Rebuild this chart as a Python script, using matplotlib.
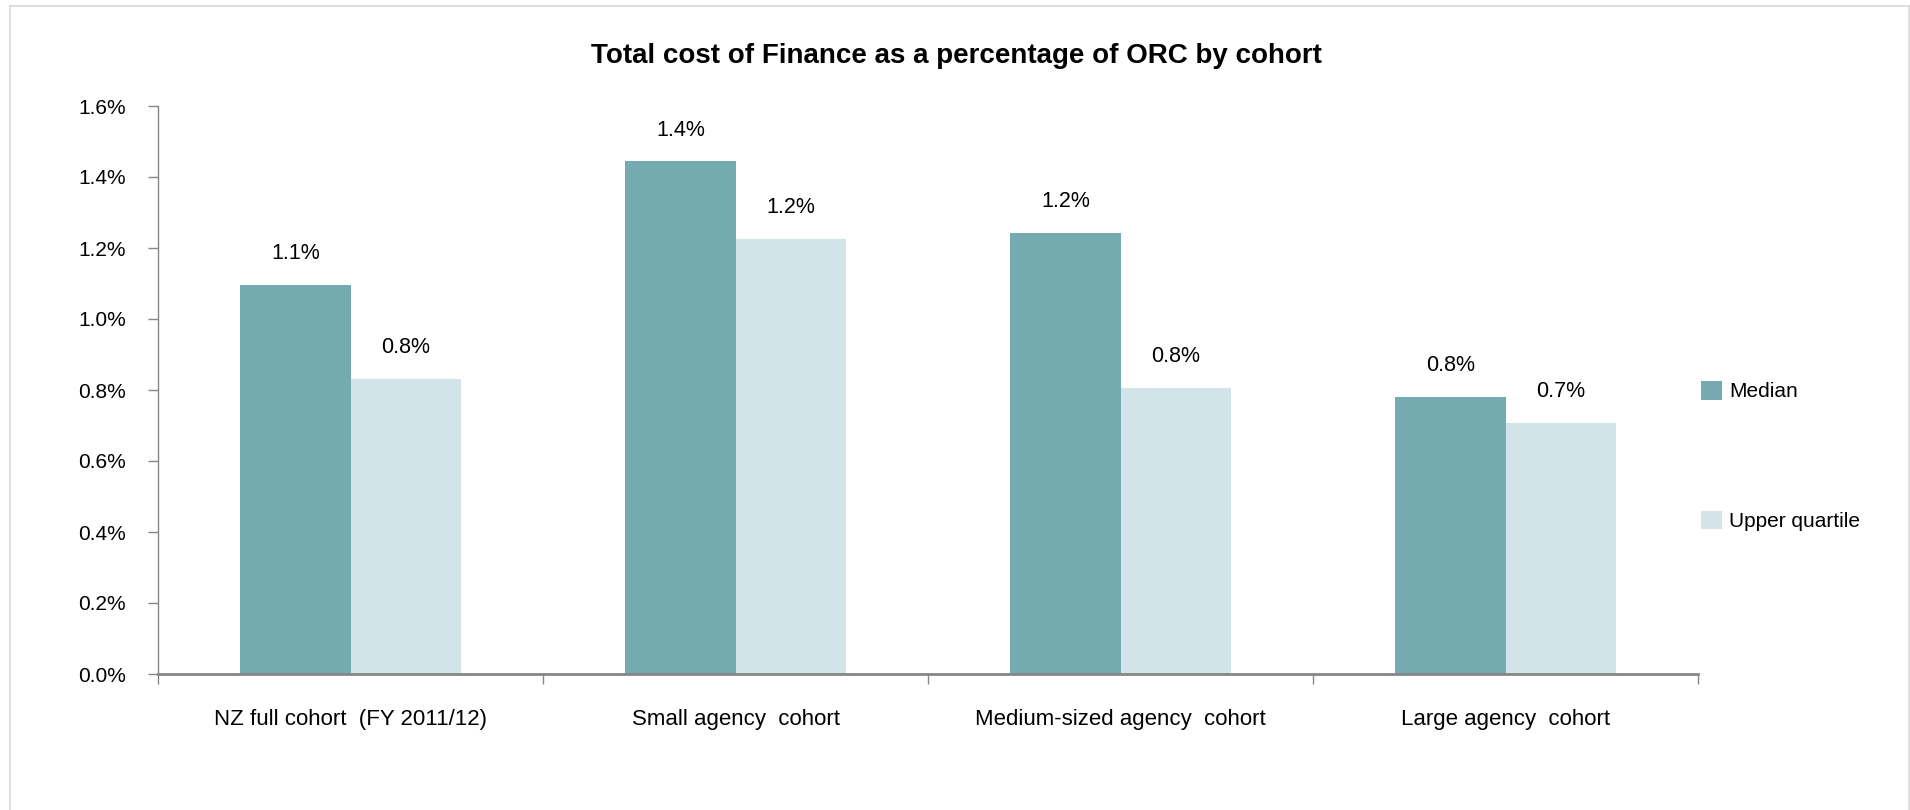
import matplotlib
matplotlib.use("Agg")
import matplotlib.pyplot as plt
from matplotlib.lines import Line2D
from matplotlib.patches import Patch
import numpy as np

plt.rcParams["font.family"] = ["Liberation Sans", "DejaVu Sans"]

cohorts = [
    "NZ full cohort  (FY 2011/12)",
    "Small agency  cohort",
    "Medium-sized agency  cohort",
    "Large agency  cohort",
]
median = [1.095, 1.444, 1.242, 0.780]
upper_quartile = [0.831, 1.225, 0.807, 0.707]
series_names = ["Median", "Upper quartile"]
colors = ["#75ABB0", "#D3E4E8"]

W, H, DPI = 1910, 810, 100
fig = plt.figure(figsize=(W / DPI, H / DPI), dpi=DPI)
ax = fig.add_axes([158 / W, 136 / H, (1698 - 158) / W, (674 - 106) / H])

x = np.arange(len(cohorts))
bw = 0.286
for k, (vals, col) in enumerate(zip([median, upper_quartile], colors)):
    off = (k - 0.5) * bw
    ax.bar(x + off, vals, width=bw, color=col, linewidth=0)
    for xi, v in zip(x, vals):
        ax.annotate(f"{v:.1f}%", (xi + off, v), xytext=(0, 15),
                    textcoords="offset points", ha="center", va="bottom",
                    fontsize=15.5, color="#000000")

ax.set_xlim(-0.5, len(cohorts) - 0.5)
ax.set_ylim(0, 1.6)

yt = np.arange(0, 1.61, 0.2)
ax.set_yticks(yt)
ax.set_yticklabels([f"{t:.1f}%" for t in yt])
ax.set_xticks(x)
ax.set_xticklabels(cohorts)
ax.set_xticks(np.arange(-0.5, len(cohorts)), minor=True)

ax.tick_params(axis="y", length=7, width=1, color="#868686", pad=16,
               labelsize=15, labelcolor="#000000")
ax.tick_params(axis="x", which="major", length=0, pad=25, labelsize=16,
               labelcolor="#000000")
ax.tick_params(axis="x", which="minor", length=7, width=1, color="#868686",
               direction="out")

for s in ["top", "right"]:
    ax.spines[s].set_visible(False)
ax.spines["left"].set_color("#868686")
ax.spines["left"].set_linewidth(1)
ax.spines["bottom"].set_color("#868686")
ax.spines["bottom"].set_linewidth(2)

fig.text(956 / W, 1 - 63 / H, "Total cost of Finance as a percentage of ORC by cohort",
         ha="center", va="baseline", fontsize=20, fontweight="bold")

handles = [Patch(facecolor=c, edgecolor="none") for c in colors]
fig.legend(handles, series_names, loc="center left",
           bbox_to_anchor=(1701 / W, 1 - 456 / H), frameon=False,
           fontsize=15, handlelength=1.0, handleheight=1.0,
           handletextpad=0.35, labelspacing=5.25, borderpad=0,
           borderaxespad=0)

# light frame around the chart area
bc = "#D9D9D9"
fig.add_artist(Line2D([9.5 / W, 9.5 / W], [0, 1 - 6 / H], color=bc, lw=1.2,
                      transform=fig.transFigure))
fig.add_artist(Line2D([9.5 / W, 1908.5 / W], [1 - 6 / H, 1 - 6 / H], color=bc,
                      lw=1.2, transform=fig.transFigure))
fig.add_artist(Line2D([1908.5 / W, 1908.5 / W], [0, 1 - 6 / H], color=bc,
                      lw=1.2, transform=fig.transFigure))

fig.savefig("out.png", dpi=DPI)
